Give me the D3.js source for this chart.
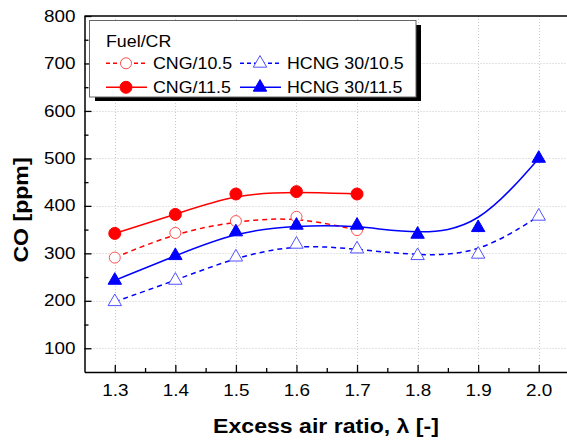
<!DOCTYPE html>
<html>
<head>
<meta charset="utf-8">
<script src="https://cdn.jsdelivr.net/npm/d3@7.9.0/dist/d3.min.js"></script>
<style>
  body { margin: 0; background: #fff; }
  svg { display: block; font-family: "Liberation Sans", Arial, sans-serif; }
</style>
</head>
<body>
<svg id="chart" width="567" height="442"></svg>
<script>
// excess air ratio values
const lambdaCNG = [1.3, 1.4, 1.5, 1.6, 1.7];
const lambdaHCNG = [1.3, 1.4, 1.5, 1.6, 1.7, 1.8, 1.9, 2.0];

// CO [ppm]
const cng105 = [291, 343, 368, 377, 349];
const cng115 = [342, 382, 425, 430, 425];
const hcng105 = [198, 243, 292, 319, 309, 295, 298, 378];
const hcng115 = [243, 295, 345, 359, 359, 340, 354, 500];

const xTicks = [1.3, 1.4, 1.5, 1.6, 1.7, 1.8, 1.9, 2.0];
const xMinor = [1.35, 1.45, 1.55, 1.65, 1.75, 1.85, 1.95];
const yTicks = [100, 200, 300, 400, 500, 600, 700, 800];
const yMinor = [150, 250, 350, 450, 550, 650, 750];

const series = [
  { name: 'CNG/10.5', xs: lambdaCNG, ys: cng105, color: '#ff0000', dash: '5,4', shape: 'circle', filled: false },
  { name: 'CNG/11.5', xs: lambdaCNG, ys: cng115, color: '#ff0000', dash: null, shape: 'circle', filled: true },
  { name: 'HCNG 30/10.5', xs: lambdaHCNG, ys: hcng105, color: '#0000ff', dash: '5,4', shape: 'triangle', filled: false },
  { name: 'HCNG 30/11.5', xs: lambdaHCNG, ys: hcng115, color: '#0000ff', dash: null, shape: 'triangle', filled: true },
];

const svg = d3.select('#chart');
const plotL = 84.5, plotR = 569, plotT = 16, plotB = 372;

const x = d3.scaleLinear().domain([1.25, 2.05]).range([plotL, plotR]);
const y = d3.scaleLinear().domain([50, 800]).range([plotB, plotT]);

// grid
const grid = svg.append('g')
  .attr('stroke', '#c8c8c8')
  .attr('stroke-width', 1)
  .attr('stroke-dasharray', '1,2');
grid.selectAll('.gx').data(xTicks).join('line')
  .attr('x1', d => Math.round(x(d)) + 0.5).attr('x2', d => Math.round(x(d)) + 0.5)
  .attr('y1', plotT).attr('y2', plotB);
grid.selectAll('.gy').data(yTicks.slice(0, -1)).join('line')
  .attr('x1', plotL).attr('x2', 567)
  .attr('y1', d => Math.round(y(d)) + 0.5).attr('y2', d => Math.round(y(d)) + 0.5);

// axes (ticks point inward)
const xAxis = svg.append('g')
  .attr('transform', `translate(0,${plotB})`)
  .call(d3.axisBottom(x).tickValues(xTicks).tickFormat(d3.format('.1f'))
    .tickSizeInner(-7).tickSizeOuter(0).tickPadding(13));
svg.append('g')
  .attr('transform', `translate(0,${plotB})`)
  .call(d3.axisBottom(x).tickValues(xMinor).tickFormat('')
    .tickSizeInner(-4).tickSizeOuter(0))
  .select('.domain').remove();

const yAxis = svg.append('g')
  .attr('transform', `translate(${plotL},0)`)
  .call(d3.axisLeft(y).tickValues(yTicks)
    .tickSizeInner(-7).tickSizeOuter(0).tickPadding(9));
svg.append('g')
  .attr('transform', `translate(${plotL},0)`)
  .call(d3.axisLeft(y).tickValues(yMinor).tickFormat('')
    .tickSizeInner(-4).tickSizeOuter(0))
  .select('.domain').remove();

svg.selectAll('.tick line').attr('stroke', '#000').attr('stroke-width', 1.3);
svg.selectAll('.domain').attr('stroke', '#000').attr('stroke-width', 1.5);

xAxis.selectAll('text')
  .attr('font-size', 16).attr('fill', '#000')
  .attr('font-family', '"Liberation Sans", Arial, sans-serif')
  .attr('transform', 'scale(1.18,1)');
yAxis.selectAll('text')
  .attr('font-size', 16).attr('fill', '#000')
  .attr('font-family', '"Liberation Sans", Arial, sans-serif')
  .attr('x', -9 / 1.18)
  .attr('transform', 'scale(1.18,1)');

// top frame line
svg.append('line')
  .attr('x1', plotL).attr('x2', 567).attr('y1', plotT).attr('y2', plotT)
  .attr('stroke', '#000').attr('stroke-width', 1.5);

// curves and markers
const line = d3.line().curve(d3.curveBasis);

function drawMarker(g, s, cx, cy) {
  if (s.shape === 'circle') {
    g.append('circle')
      .attr('cx', cx).attr('cy', cy)
      .attr('r', s.filled ? 6 : 5.5)
      .attr('fill', s.filled ? s.color : '#fff')
      .attr('stroke', s.filled ? s.color : '#ff5050')
      .attr('stroke-width', 1);
  } else {
    g.append('path')
      .attr('transform', `translate(${cx},${cy})`)
      .attr('d', d3.symbol(d3.symbolTriangle, 78)())
      .attr('fill', s.filled ? s.color : '#fff')
      .attr('stroke', s.filled ? s.color : '#5050ff')
      .attr('stroke-width', 1);
  }
}

series.forEach(s => {
  const pts = s.xs.map((v, i) => [x(v), y(s.ys[i])]);
  svg.append('path')
    .attr('d', line(pts))
    .attr('fill', 'none')
    .attr('stroke', s.color)
    .attr('stroke-width', 1.5)
    .attr('stroke-dasharray', s.dash);
  const g = svg.append('g');
  pts.forEach(p => drawMarker(g, s, p[0], p[1]));
});

// legend
const lg = svg.append('g');
lg.append('rect').attr('x', 95).attr('y', 25).attr('width', 326).attr('height', 76).attr('fill', '#000');
lg.append('rect').attr('x', 89.5).attr('y', 20.5).attr('width', 326.5).attr('height', 76.5)
  .attr('fill', '#fff').attr('stroke', '#666').attr('stroke-width', 1);
lg.append('text')
  .attr('transform', 'translate(106,46.5) scale(1.08,1)')
  .attr('font-size', 16.5).text('Fuel/CR');

const legendCols = [106, 240];
const legendRows = [63.3, 87.3];
series.forEach((s, i) => {
  const lx = legendCols[Math.floor(i / 2)];
  const ly = legendRows[i % 2];
  lg.append('line')
    .attr('x1', lx).attr('x2', lx + 41).attr('y1', ly).attr('y2', ly)
    .attr('stroke', s.color).attr('stroke-width', 1.5)
    .attr('stroke-dasharray', s.dash ? '4,3' : null);
  drawMarker(lg, s, lx + 20, ly);
  lg.append('text')
    .attr('transform', `translate(${lx + 47},${ly + 6}) scale(1.08,1)`)
    .attr('font-size', 16.5).text(s.name);
});

// axis titles
svg.append('text')
  .attr('transform', 'translate(326,433) scale(1.1,1)')
  .attr('text-anchor', 'middle')
  .attr('font-size', 21).attr('font-weight', 'bold')
  .text('Excess air ratio, λ [-]');
svg.append('text')
  .attr('transform', 'translate(28,210) rotate(-90) scale(1.1,1)')
  .attr('text-anchor', 'middle')
  .attr('font-size', 21).attr('font-weight', 'bold')
  .text('CO [ppm]');
</script>
</body>
</html>
